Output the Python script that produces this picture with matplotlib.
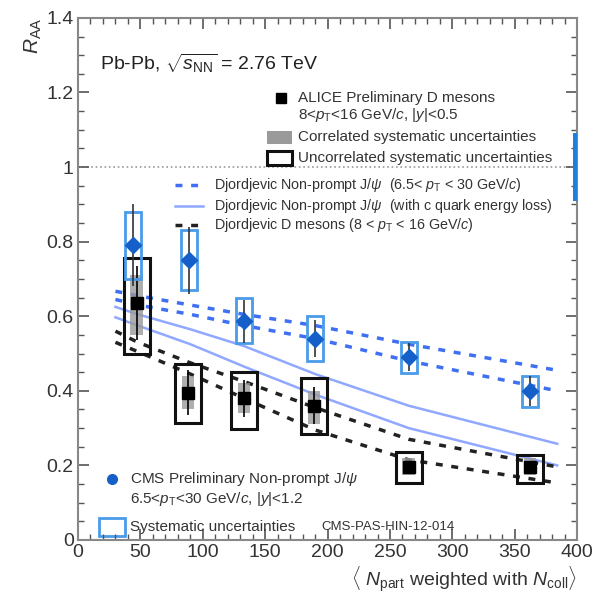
import numpy as np
import matplotlib.pyplot as plt
from matplotlib.patches import Rectangle
from matplotlib.ticker import MultipleLocator, FuncFormatter

plt.rcParams['font.family'] = ['Liberation Sans', 'DejaVu Sans']
plt.rcParams['mathtext.fontset'] = 'custom'
plt.rcParams['mathtext.rm'] = 'Liberation Sans'
plt.rcParams['mathtext.it'] = 'Liberation Sans:italic'

# ALICE D mesons, 8 < pT < 16 GeV/c
d_npart = [47, 88, 133, 189, 265, 362]
d_raa = [0.635, 0.395, 0.38, 0.36, 0.196, 0.196]
d_stat = [0.10, 0.06, 0.05, 0.05, 0.015, 0.015]
d_unc_lo = [0.50, 0.315, 0.298, 0.285, 0.153, 0.153]
d_unc_hi = [0.755, 0.473, 0.45, 0.433, 0.237, 0.228]
d_cor_lo = [0.55, 0.35, 0.34, 0.31, 0.175, 0.175]
d_cor_hi = [0.71, 0.44, 0.42, 0.40, 0.22, 0.22]

# CMS non-prompt J/psi, 6.5 < pT < 30 GeV/c
j_npart = [44, 89, 133, 190, 265, 362]
j_raa = [0.79, 0.75, 0.586, 0.54, 0.49, 0.40]
j_stat = [0.11, 0.09, 0.058, 0.05, 0.038, 0.04]
j_sys_lo = [0.70, 0.67, 0.527, 0.48, 0.449, 0.357]
j_sys_hi = [0.88, 0.83, 0.65, 0.60, 0.53, 0.44]
j_global = 0.09

# Djordjevic calculations
th_npart = [30, 48, 90, 133, 190, 265, 384]
jpsi_band_hi = [0.667, 0.655, 0.63, 0.605, 0.575, 0.525, 0.455]
jpsi_band_lo = [0.645, 0.630, 0.605, 0.575, 0.54, 0.48, 0.40]
jpsi_c_hi = [0.625, 0.605, 0.565, 0.52, 0.445, 0.36, 0.258]
jpsi_c_lo = [0.597, 0.575, 0.525, 0.465, 0.39, 0.30, 0.20]
dmes_hi = [0.56, 0.53, 0.475, 0.425, 0.355, 0.27, 0.196]
dmes_lo = [0.53, 0.505, 0.445, 0.38, 0.295, 0.215, 0.153]

blue = '#1560c8'
blue_box = '#4a9be8'
blue_dash = '#3f6ff2'
blue_light = '#90a8ff'
txt = '#333333'

fig = plt.figure(figsize=(6, 5.96), dpi=100)
ax = fig.add_axes([0.13, 0.094, 0.832, 0.876])

ax.axhline(1.0, color='#999999', ls=':', lw=1.2, zorder=1)

# theory curves
ax.plot(th_npart, jpsi_band_hi, color=blue_dash, ls=(0, (2, 2.5)), lw=2.5, zorder=2)
ax.plot(th_npart, jpsi_band_lo, color=blue_dash, ls=(0, (2, 2.5)), lw=2.5, zorder=2)
ax.plot(th_npart, jpsi_c_hi, color=blue_light, lw=1.8, zorder=2)
ax.plot(th_npart, jpsi_c_lo, color=blue_light, lw=1.8, zorder=2)
ax.plot(th_npart, dmes_hi, color='#222222', ls=(0, (2, 2.5)), lw=2.5, zorder=2)
ax.plot(th_npart, dmes_lo, color='#222222', ls=(0, (2, 2.5)), lw=2.5, zorder=2)

# ALICE systematics
for x, lo, hi in zip(d_npart, d_cor_lo, d_cor_hi):
    ax.add_patch(Rectangle((x - 5, lo), 10, hi - lo, facecolor='#9a9a9a',
                           edgecolor='none', alpha=0.8, zorder=3))
for x, lo, hi in zip(d_npart, d_unc_lo, d_unc_hi):
    ax.add_patch(Rectangle((x - 10.5, lo), 21, hi - lo, facecolor='none',
                           edgecolor='#111111', lw=2.2, zorder=4))
ax.errorbar(d_npart, d_raa, yerr=d_stat, fmt='s', color='black', ms=9,
            elinewidth=1.2, capsize=0, zorder=5)

# CMS systematics
for x, lo, hi in zip(j_npart, j_sys_lo, j_sys_hi):
    ax.add_patch(Rectangle((x - 6.5, lo), 13, hi - lo, facecolor='none',
                           edgecolor=blue_box, lw=2, zorder=6))
ax.errorbar(j_npart, j_raa, yerr=j_stat, fmt='none', ecolor='#333333',
            elinewidth=1.2, capsize=0, zorder=6)
ax.plot(j_npart, j_raa, 'D', color=blue, ms=8.5, zorder=7)

# global normalisation uncertainty
ax.add_patch(Rectangle((397, 1 - j_global), 3, 2 * j_global, facecolor='#1e7fe0',
                       edgecolor='none', zorder=8, clip_on=False))

# legends
ax.text(17.6, 1.277, r'Pb-Pb, $\sqrt{s_{\rm NN}}$ = 2.76 TeV', fontsize=14,
        va='center', color='#222222')

ax.plot([162.7], [1.185], 's', color='black', ms=7)
ax.text(176, 1.185, 'ALICE Preliminary D mesons', fontsize=11, va='center', color=txt)
ax.text(176, 1.14, r'8<$p_{\rm T}$<16 GeV/$c$, |$y$|<0.5', fontsize=11, va='center', color=txt)
ax.add_patch(Rectangle((151.5, 1.062), 20, 0.035, facecolor='#9a9a9a', edgecolor='none'))
ax.text(176, 1.081, 'Correlated systematic uncertainties', fontsize=11, va='center', color=txt)
ax.add_patch(Rectangle((151.5, 1.006), 20, 0.036, facecolor='none', edgecolor='#111111', lw=2.2))
ax.text(176, 1.025, 'Uncorrelated systematic uncertainties', fontsize=11, va='center', color=txt)

ax.plot([78, 100], [0.952, 0.952], color=blue_dash, ls=(0, (2, 2.5)), lw=2.5)
ax.text(109, 0.952, r'Djordjevic Non-prompt J/$\psi$  (6.5< $p_{\rm T}$ < 30 GeV/$c$)',
        fontsize=10.3, va='center', color=txt)
ax.plot([78, 100], [0.895, 0.895], color=blue_light, lw=1.8)
ax.text(109, 0.895, r'Djordjevic Non-prompt J/$\psi$  (with c quark energy loss)',
        fontsize=10.3, va='center', color=txt)
ax.plot([78, 100], [0.844, 0.844], color='#222222', ls=(0, (2, 2.5)), lw=2.5)
ax.text(109, 0.844, r'Djordjevic D mesons (8 < $p_{\rm T}$ < 16 GeV/$c$)',
        fontsize=10.3, va='center', color=txt)

ax.plot([27.3], [0.164], 'o', color=blue, ms=7)
ax.text(41.7, 0.164, r'CMS Preliminary Non-prompt J/$\psi$', fontsize=11, va='center', color=txt)
ax.text(41.7, 0.11, r'6.5<$p_{\rm T}$<30 GeV/$c$, |$y$|<1.2', fontsize=11, va='center', color=txt)
ax.add_patch(Rectangle((17, 0.012), 21, 0.046, facecolor='none', edgecolor=blue_box, lw=2))
ax.text(41.7, 0.035, 'Systematic uncertainties', fontsize=11, va='center', color=txt)
ax.text(195, 0.035, 'CMS-PAS-HIN-12-014', fontsize=9.5, va='center', color=txt)

# axes
ax.set_xlim(0, 400)
ax.set_ylim(0, 1.4)
ax.xaxis.set_major_locator(MultipleLocator(50))
ax.xaxis.set_minor_locator(MultipleLocator(10))
ax.yaxis.set_major_locator(MultipleLocator(0.2))
ax.yaxis.set_minor_locator(MultipleLocator(0.05))
ax.yaxis.set_major_formatter(FuncFormatter(lambda v, p: f'{v:g}'))
ax.tick_params(which='both', direction='in', top=True, right=True,
               labelsize=14, colors='#555555', labelcolor=txt)
ax.tick_params(which='major', length=8, width=1.2, pad=3)
ax.tick_params(which='minor', length=4, width=1)
for s in ax.spines.values():
    s.set_color('#888888')
    s.set_linewidth(1.5)

ax.set_xlabel(r'$\langle\ N_{\rm part}$ weighted with $N_{\rm coll}\rangle$',
              fontsize=14, color=txt, loc='right', labelpad=2)
ax.set_ylabel(r'$R_{\rm AA}$', fontsize=15, color=txt, loc='top', labelpad=2)

fig.savefig('out.png', dpi=100)
